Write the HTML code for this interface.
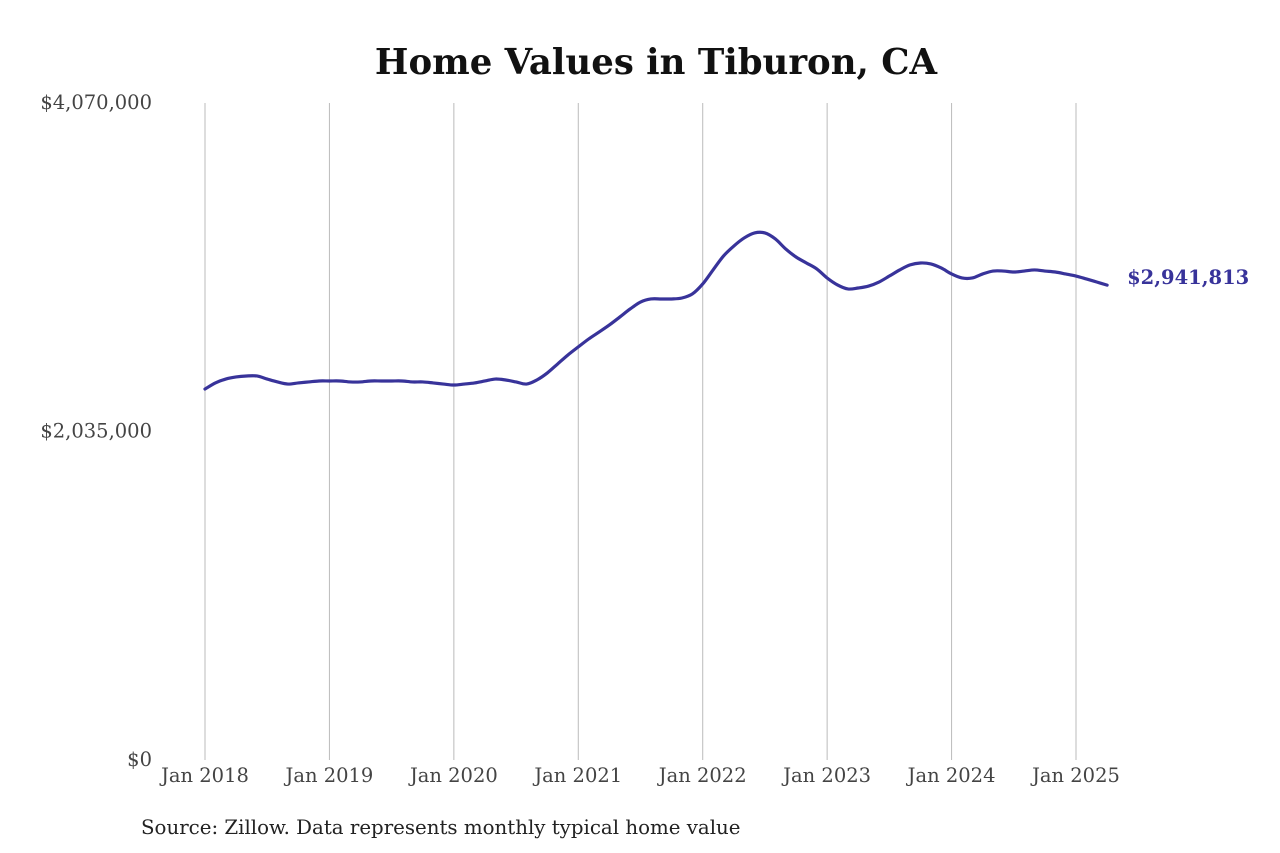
<!DOCTYPE html>
<html><head><meta charset="utf-8"><style>
html,body{margin:0;padding:0;background:#fff;}
svg{display:block;font-family:"DejaVu Serif","Liberation Serif",serif;}
</style></head><body>
<svg id="chart" width="1280" height="853" viewBox="0 0 1280 853">
<rect width="1280" height="853" fill="#fff"/>
<text x="656" y="74" text-anchor="middle" font-size="35.5" font-weight="bold" fill="#111">Home Values in Tiburon, CA</text>
<g id="grid"></g><g id="yticks"></g><g id="xticks"></g><g id="series"></g>
<text x="141" y="834" font-size="19.8" fill="#222">Source: Zillow. Data represents monthly typical home value</text>
</svg>
<script>
const xLabels=["Jan 2018","Jan 2019","Jan 2020","Jan 2021","Jan 2022","Jan 2023","Jan 2024","Jan 2025"];
const yTicks=[0,2035000,4070000];
const yTickLabels=["$0","$2,035,000","$4,070,000"];
const values=[2298,2336,2360,2373,2379,2379,2360,2342,2329,2336,2342,2348,
2348,2348,2342,2342,2348,2348,2348,2348,2342,2342,2336,2329,
2323,2329,2336,2348,2360,2354,2342,2329,2354,2397,2453,2509,
2559,2608,2651,2695,2744,2794,2837,2856,2856,2856,2862,2887,
2949,3036,3122,3184,3234,3265,3265,3228,3166,3116,3079,3042,
2986,2943,2918,2924,2936,2961,2998,3036,3067,3079,3073,3048,
3011,2986,2986,3011,3029,3029,3023,3029,3036,3029,3023,3011,
2998,2980,2961,2941.813];
const lastLabel="$2,941,813";
const NS="http://www.w3.org/2000/svg";
const x0=205,monthW=(1076-205)/84,yBase=760,yTop=103,yMax=4070000;
function xs(m){return x0+m*monthW;}
function ys(v){return yBase-(v/yMax)*(yBase-yTop);}
function mk(t,a,p){const e=document.createElementNS(NS,t);for(const k in a)e.setAttribute(k,a[k]);p.appendChild(e);return e;}
const grid=document.getElementById('grid'),xt=document.getElementById('xticks'),yt=document.getElementById('yticks'),ser=document.getElementById('series');
xLabels.forEach((l,i)=>{
 const x=xs(i*12);
 const g=mk('line',{x1:x,x2:x,y1:yTop,y2:yBase,stroke:'#bbb','stroke-width':1},grid);
 
 
 const t=mk('text',{x:x,y:782,'text-anchor':'middle','font-size':19.5,fill:'#444'},xt);
 t.textContent=l;
 
 
});
yTicks.forEach((v,i)=>{
 const t=mk('text',{x:152,y:ys(v)+6,'text-anchor':'end','font-size':19.5,fill:'#444'},yt);
 t.textContent=yTickLabels[i];
 
 
});
const pts=values.map((v,i)=>[xs(i),ys(v*1000)]);
let d='M'+pts[0][0]+','+pts[0][1];
for(let i=1;i<pts.length;i++){
 const p0=pts[Math.max(i-2,0)],p1=pts[i-1],p2=pts[i],p3=pts[Math.min(i+1,pts.length-1)];
 d+=' C'+(p1[0]+(p2[0]-p0[0])/6)+','+(p1[1]+(p2[1]-p0[1])/6)+' '+(p2[0]-(p3[0]-p1[0])/6)+','+(p2[1]-(p3[1]-p1[1])/6)+' '+p2[0]+','+p2[1];
}
const path=mk('path',{d:d,fill:'none',stroke:'#38339a','stroke-width':3.2,'stroke-linejoin':'round','stroke-linecap':'round'},ser);


const last=pts[pts.length-1];
const lt=mk('text',{x:last[0]+20,y:last[1]-1,'font-size':19.5,'font-weight':'bold',fill:'#38339a'},ser);
lt.textContent=lastLabel;


</script>
</body></html>
